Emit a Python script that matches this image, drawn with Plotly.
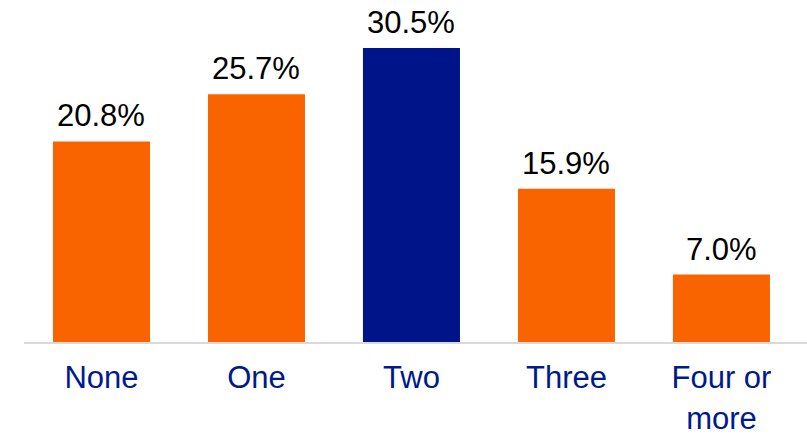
import plotly.graph_objects as go

categories = ["None", "One", "Two", "Three", "Four or<br>more"]
shares = [20.8, 25.7, 30.5, 15.9, 7.0]
labels = ["20.8%", "25.7%", "30.5%", "15.9%", "7.0%"]

ORANGE = "#FA6400"
NAVY = "#001489"
TEXT_BLUE = "#001A8C"

colors = [NAVY if c == "Two" else ORANGE for c in categories]

fig = go.Figure()
fig.add_trace(go.Bar(
    x=categories,
    y=shares,
    marker=dict(color=colors, line=dict(width=0)),
    width=0.626,
))

# value labels above the bars
for cat, val, lab in zip(categories, shares, labels):
    fig.add_annotation(
        x=cat, y=val, text=lab, showarrow=False,
        yanchor="bottom", yshift=6,
        font=dict(family="Liberation Sans, Arial, sans-serif", size=31, color="#000000"),
    )

fig.update_layout(
    width=807,
    height=435,
    margin=dict(l=24, r=0, t=10, b=93),
    paper_bgcolor="white",
    plot_bgcolor="white",
    showlegend=False,
    font=dict(family="Liberation Sans, Arial, sans-serif"),
)
fig.update_xaxes(
    range=[-0.5, 4.552],
    showline=True,
    linecolor="#D9D9D9",
    linewidth=2,
    ticks="",
    ticklabelstandoff=7,
    tickfont=dict(size=31, color=TEXT_BLUE),
    showgrid=False,
    automargin=False,
)
fig.update_yaxes(
    range=[0, 34.44],
    visible=False,
    showgrid=False,
    automargin=False,
)

# drop the default 8px page margin so the figure fills the window
fig.write_html(
    "out.html",
    config={"displayModeBar": False},
    post_script="document.body.style.margin='0';",
)
